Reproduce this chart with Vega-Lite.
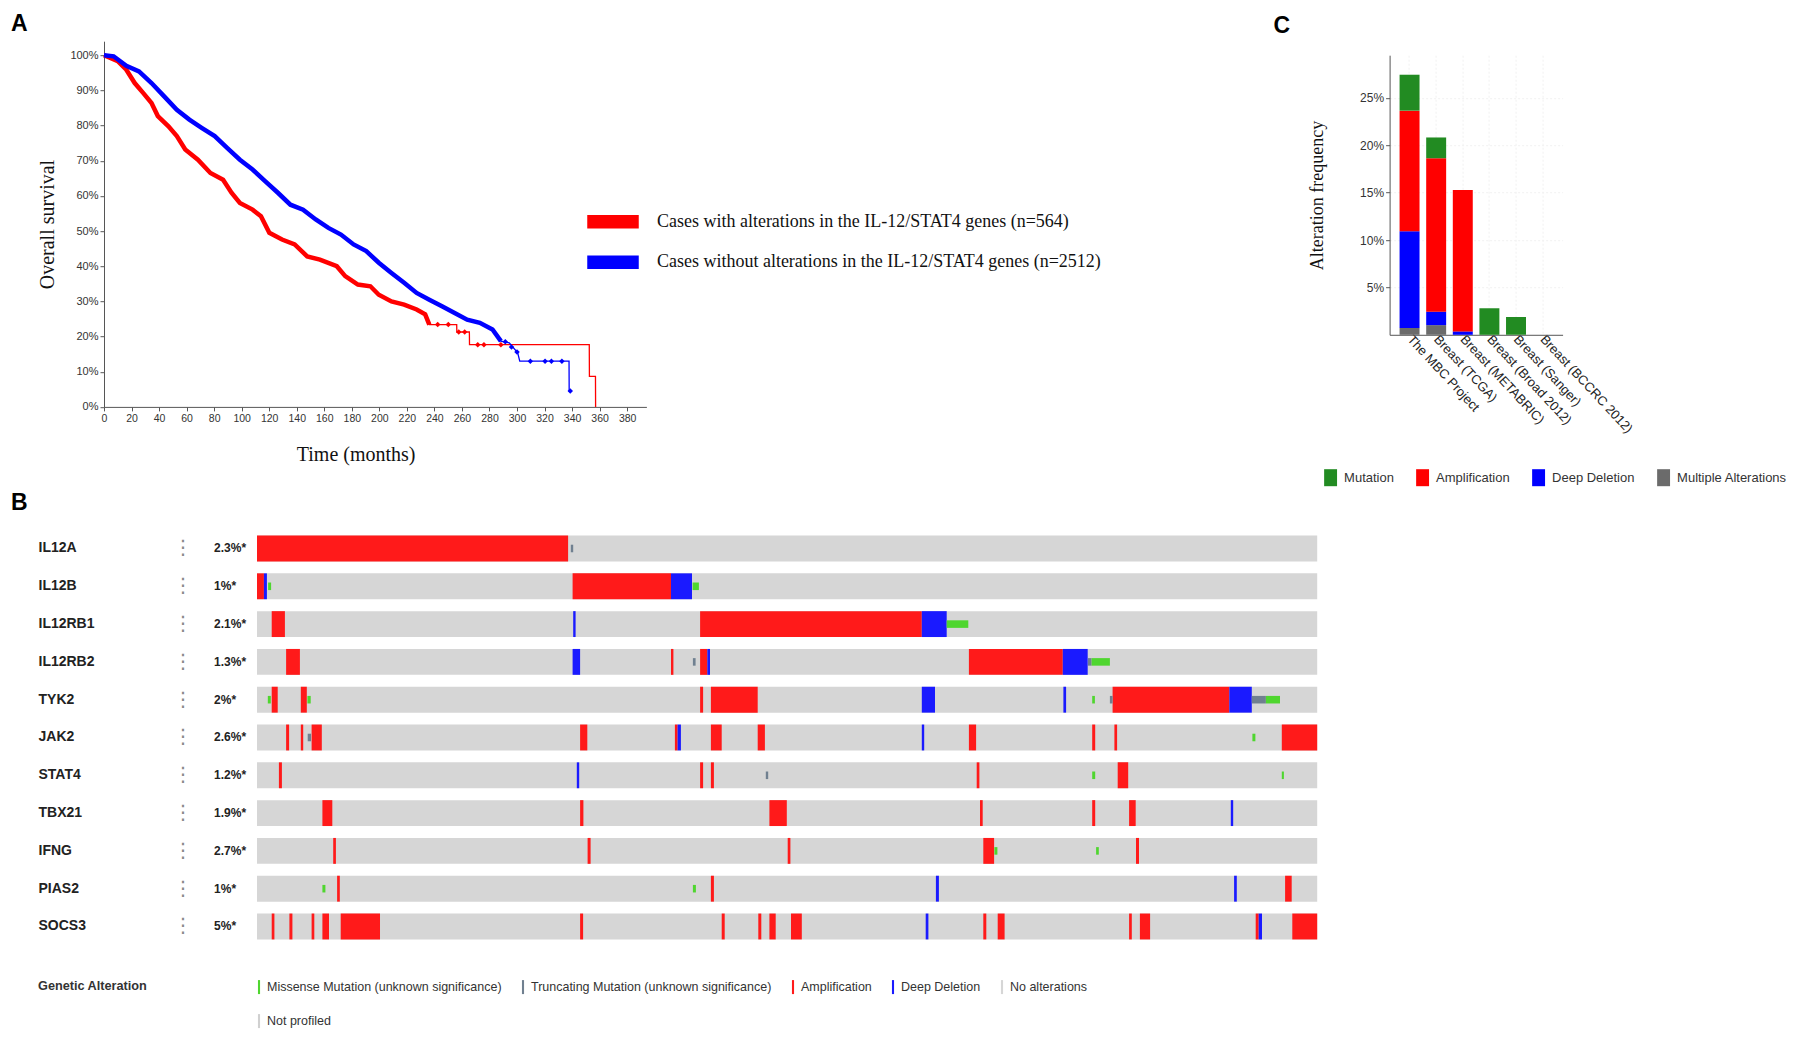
{
  "$schema": "https://vega.github.io/schema/vega-lite/v6.json",
  "autosize": {"type": "pad"},
  "padding": {"left": 11, "top": 13.2, "right": 5, "bottom": 5},
  "background": "white",
  "config": {
    "view": {"stroke": null},
    "font": "Liberation Sans",
    "legend": {"padding": 0},
    "axis": {"labelOverlap": false}
  },
  "datasets": {
    "km": [
      {"g": "altered", "t": 0, "s": 1.0}, {"g": "altered", "t": 10, "s": 0.983}, {"g": "altered", "t": 16.2, "s": 0.959}, {"g": "altered", "t": 22.3, "s": 0.921},
      {"g": "altered", "t": 28.4, "s": 0.893}, {"g": "altered", "t": 34.5, "s": 0.864}, {"g": "altered", "t": 39.1, "s": 0.827}, {"g": "altered", "t": 46.8, "s": 0.798},
      {"g": "altered", "t": 52.9, "s": 0.77}, {"g": "altered", "t": 59, "s": 0.732}, {"g": "altered", "t": 68.2, "s": 0.703}, {"g": "altered", "t": 77.3, "s": 0.665},
      {"g": "altered", "t": 86.5, "s": 0.646}, {"g": "altered", "t": 92.6, "s": 0.609}, {"g": "altered", "t": 98.7, "s": 0.58}, {"g": "altered", "t": 107.9, "s": 0.561},
      {"g": "altered", "t": 114, "s": 0.542}, {"g": "altered", "t": 120.1, "s": 0.495}, {"g": "altered", "t": 129.3, "s": 0.476}, {"g": "altered", "t": 138.5, "s": 0.462},
      {"g": "altered", "t": 147.6, "s": 0.428}, {"g": "altered", "t": 156.8, "s": 0.419}, {"g": "altered", "t": 169.1, "s": 0.40}, {"g": "altered", "t": 175.2, "s": 0.372},
      {"g": "altered", "t": 184.4, "s": 0.348}, {"g": "altered", "t": 193.5, "s": 0.343}, {"g": "altered", "t": 199.6, "s": 0.319}, {"g": "altered", "t": 208.8, "s": 0.30},
      {"g": "altered", "t": 218, "s": 0.291}, {"g": "altered", "t": 227.1, "s": 0.277}, {"g": "altered", "t": 233.3, "s": 0.263}, {"g": "altered", "t": 236.3, "s": 0.234},
      {"g": "altered", "t": 256.2, "s": 0.234}, {"g": "altered", "t": 256.3, "s": 0.213}, {"g": "altered", "t": 265.4, "s": 0.213}, {"g": "altered", "t": 265.5, "s": 0.177},
      {"g": "altered", "t": 352.5, "s": 0.177}, {"g": "altered", "t": 352.6, "s": 0.087}, {"g": "altered", "t": 357, "s": 0.087}, {"g": "altered", "t": 357.1, "s": 0},
      {"g": "unaltered", "t": 0, "s": 1.0}, {"g": "unaltered", "t": 7, "s": 0.997}, {"g": "unaltered", "t": 16.2, "s": 0.97}, {"g": "unaltered", "t": 25.4, "s": 0.954},
      {"g": "unaltered", "t": 34.5, "s": 0.921}, {"g": "unaltered", "t": 43.7, "s": 0.883}, {"g": "unaltered", "t": 52.9, "s": 0.845}, {"g": "unaltered", "t": 62, "s": 0.817},
      {"g": "unaltered", "t": 71.2, "s": 0.793}, {"g": "unaltered", "t": 80.4, "s": 0.77}, {"g": "unaltered", "t": 89.6, "s": 0.736}, {"g": "unaltered", "t": 98.7, "s": 0.703},
      {"g": "unaltered", "t": 107.9, "s": 0.675}, {"g": "unaltered", "t": 117, "s": 0.642}, {"g": "unaltered", "t": 126.3, "s": 0.609}, {"g": "unaltered", "t": 135.4, "s": 0.575},
      {"g": "unaltered", "t": 144.6, "s": 0.561}, {"g": "unaltered", "t": 153.8, "s": 0.533}, {"g": "unaltered", "t": 163, "s": 0.509}, {"g": "unaltered", "t": 172.1, "s": 0.49},
      {"g": "unaltered", "t": 181.3, "s": 0.462}, {"g": "unaltered", "t": 190.5, "s": 0.443}, {"g": "unaltered", "t": 199.6, "s": 0.41}, {"g": "unaltered", "t": 208.8, "s": 0.381},
      {"g": "unaltered", "t": 218, "s": 0.353}, {"g": "unaltered", "t": 227.1, "s": 0.324}, {"g": "unaltered", "t": 236.3, "s": 0.305}, {"g": "unaltered", "t": 245.5, "s": 0.286},
      {"g": "unaltered", "t": 254.7, "s": 0.267}, {"g": "unaltered", "t": 263.8, "s": 0.248}, {"g": "unaltered", "t": 273, "s": 0.239}, {"g": "unaltered", "t": 282.2, "s": 0.22},
      {"g": "unaltered", "t": 288.3, "s": 0.187}, {"g": "unaltered", "t": 294.4, "s": 0.182}, {"g": "unaltered", "t": 300.5, "s": 0.154}, {"g": "unaltered", "t": 302, "s": 0.13},
      {"g": "unaltered", "t": 337.8, "s": 0.13}, {"g": "unaltered", "t": 337.9, "s": 0.045}, {"g": "unaltered", "t": 339, "s": 0.045}
    ],
    "censor": [
      {"g": "altered", "t": 242.4, "s": 0.234}, {"g": "altered", "t": 250.1, "s": 0.234}, {"g": "altered", "t": 257.7, "s": 0.213}, {"g": "altered", "t": 262, "s": 0.213},
      {"g": "altered", "t": 271.5, "s": 0.177}, {"g": "altered", "t": 276, "s": 0.177}, {"g": "altered", "t": 288.3, "s": 0.177},
      {"g": "unaltered", "t": 291.5, "s": 0.185}, {"g": "unaltered", "t": 296, "s": 0.17}, {"g": "unaltered", "t": 300, "s": 0.156}, {"g": "unaltered", "t": 309.7, "s": 0.13},
      {"g": "unaltered", "t": 320.4, "s": 0.13}, {"g": "unaltered", "t": 325, "s": 0.13}, {"g": "unaltered", "t": 332.6, "s": 0.13}, {"g": "unaltered", "t": 338.7, "s": 0.045}
    ],
    "freq": [
      {"study": "The MBC Project", "type": "Multiple Alterations", "freq": 0.0073},
      {"study": "The MBC Project", "type": "Deep Deletion", "freq": 0.1019},
      {"study": "The MBC Project", "type": "Amplification", "freq": 0.1273},
      {"study": "The MBC Project", "type": "Mutation", "freq": 0.0379},
      {"study": "Breast (TCGA)", "type": "Multiple Alterations", "freq": 0.0102},
      {"study": "Breast (TCGA)", "type": "Deep Deletion", "freq": 0.0142},
      {"study": "Breast (TCGA)", "type": "Amplification", "freq": 0.1619},
      {"study": "Breast (TCGA)", "type": "Mutation", "freq": 0.0219},
      {"study": "Breast (METABRIC)", "type": "Deep Deletion", "freq": 0.0036},
      {"study": "Breast (METABRIC)", "type": "Amplification", "freq": 0.1492},
      {"study": "Breast (Broad 2012)", "type": "Mutation", "freq": 0.028},
      {"study": "Breast (Sanger)", "type": "Mutation", "freq": 0.0189}
    ],
    "types": [
      {"type": "Multiple Alterations", "rank": 1},
      {"type": "Deep Deletion", "rank": 2},
      {"type": "Amplification", "rank": 3},
      {"type": "Mutation", "rank": 4}
    ],
    "genes": [
      {"gene": "IL12A", "pct": "2.3%*"}, {"gene": "IL12B", "pct": "1%*"}, {"gene": "IL12RB1", "pct": "2.1%*"}, {"gene": "IL12RB2", "pct": "1.3%*"},
      {"gene": "TYK2", "pct": "2%*"}, {"gene": "JAK2", "pct": "2.6%*"}, {"gene": "STAT4", "pct": "1.2%*"}, {"gene": "TBX21", "pct": "1.9%*"},
      {"gene": "IFNG", "pct": "2.7%*"}, {"gene": "PIAS2", "pct": "1%*"}, {"gene": "SOCS3", "pct": "5%*"}
    ],
    "onco": [
      {"gene": "IL12A", "alt": "none", "a": 0, "b": 353.4}, {"gene": "IL12B", "alt": "none", "a": 0, "b": 353.4}, {"gene": "IL12RB1", "alt": "none", "a": 0, "b": 353.4},
      {"gene": "IL12RB2", "alt": "none", "a": 0, "b": 353.4}, {"gene": "TYK2", "alt": "none", "a": 0, "b": 353.4}, {"gene": "JAK2", "alt": "none", "a": 0, "b": 353.4},
      {"gene": "STAT4", "alt": "none", "a": 0, "b": 353.4}, {"gene": "TBX21", "alt": "none", "a": 0, "b": 353.4}, {"gene": "IFNG", "alt": "none", "a": 0, "b": 353.4},
      {"gene": "PIAS2", "alt": "none", "a": 0, "b": 353.4}, {"gene": "SOCS3", "alt": "none", "a": 0, "b": 353.4},
      {"gene": "IL12A", "alt": "amp", "a": 0, "b": 103.7}, {"gene": "IL12A", "alt": "trunc", "a": 104.6, "b": 105.4},
      {"gene": "IL12B", "alt": "amp", "a": 0, "b": 2.3}, {"gene": "IL12B", "alt": "del", "a": 2.3, "b": 3.3}, {"gene": "IL12B", "alt": "miss", "a": 3.7, "b": 4.7},
      {"gene": "IL12B", "alt": "amp", "a": 105.2, "b": 138}, {"gene": "IL12B", "alt": "del", "a": 138, "b": 145}, {"gene": "IL12B", "alt": "miss", "a": 145.2, "b": 147.3},
      {"gene": "IL12RB1", "alt": "amp", "a": 4.9, "b": 9.3}, {"gene": "IL12RB1", "alt": "del", "a": 105.4, "b": 106.2}, {"gene": "IL12RB1", "alt": "amp", "a": 147.7, "b": 221.6},
      {"gene": "IL12RB1", "alt": "del", "a": 221.6, "b": 229.9}, {"gene": "IL12RB1", "alt": "miss", "a": 229.9, "b": 237.1},
      {"gene": "IL12RB2", "alt": "amp", "a": 9.7, "b": 14.3}, {"gene": "IL12RB2", "alt": "del", "a": 105.2, "b": 107.7}, {"gene": "IL12RB2", "alt": "amp", "a": 138, "b": 138.8},
      {"gene": "IL12RB2", "alt": "trunc", "a": 145.3, "b": 146.2}, {"gene": "IL12RB2", "alt": "amp", "a": 147.7, "b": 150.1}, {"gene": "IL12RB2", "alt": "del", "a": 150.1, "b": 151},
      {"gene": "IL12RB2", "alt": "amp", "a": 237.3, "b": 268.6}, {"gene": "IL12RB2", "alt": "del", "a": 268.6, "b": 276.9}, {"gene": "IL12RB2", "alt": "trunc", "a": 277, "b": 278.2},
      {"gene": "IL12RB2", "alt": "miss", "a": 278.2, "b": 284.3},
      {"gene": "TYK2", "alt": "miss", "a": 3.6, "b": 4.6}, {"gene": "TYK2", "alt": "amp", "a": 4.9, "b": 6.9}, {"gene": "TYK2", "alt": "amp", "a": 14.6, "b": 16.6},
      {"gene": "TYK2", "alt": "miss", "a": 16.8, "b": 17.9}, {"gene": "TYK2", "alt": "amp", "a": 147.7, "b": 148.7}, {"gene": "TYK2", "alt": "amp", "a": 151.3, "b": 166.9},
      {"gene": "TYK2", "alt": "del", "a": 221.6, "b": 226}, {"gene": "TYK2", "alt": "del", "a": 268.8, "b": 269.7}, {"gene": "TYK2", "alt": "miss", "a": 278.4, "b": 279.3},
      {"gene": "TYK2", "alt": "trunc", "a": 284.3, "b": 285.2}, {"gene": "TYK2", "alt": "amp", "a": 285.2, "b": 324.1}, {"gene": "TYK2", "alt": "del", "a": 324.1, "b": 331.6},
      {"gene": "TYK2", "alt": "trunc", "a": 331.6, "b": 336.3}, {"gene": "TYK2", "alt": "miss", "a": 336.3, "b": 341},
      {"gene": "JAK2", "alt": "amp", "a": 9.7, "b": 10.7}, {"gene": "JAK2", "alt": "amp", "a": 14.6, "b": 15.4}, {"gene": "JAK2", "alt": "trunc", "a": 16.9, "b": 18},
      {"gene": "JAK2", "alt": "amp", "a": 18.2, "b": 21.6}, {"gene": "JAK2", "alt": "amp", "a": 107.7, "b": 110.1}, {"gene": "JAK2", "alt": "amp", "a": 139.3, "b": 140.2},
      {"gene": "JAK2", "alt": "del", "a": 140.2, "b": 141.3}, {"gene": "JAK2", "alt": "amp", "a": 151.3, "b": 154.9}, {"gene": "JAK2", "alt": "amp", "a": 166.9, "b": 169.3},
      {"gene": "JAK2", "alt": "del", "a": 221.6, "b": 222.4}, {"gene": "JAK2", "alt": "amp", "a": 237.3, "b": 239.7}, {"gene": "JAK2", "alt": "amp", "a": 278.4, "b": 279.4},
      {"gene": "JAK2", "alt": "amp", "a": 285.8, "b": 286.7}, {"gene": "JAK2", "alt": "miss", "a": 331.8, "b": 332.8}, {"gene": "JAK2", "alt": "amp", "a": 341.6, "b": 353.4},
      {"gene": "STAT4", "alt": "amp", "a": 7.3, "b": 8.3}, {"gene": "STAT4", "alt": "del", "a": 106.6, "b": 107.4}, {"gene": "STAT4", "alt": "amp", "a": 147.7, "b": 148.7},
      {"gene": "STAT4", "alt": "amp", "a": 151.3, "b": 152.3}, {"gene": "STAT4", "alt": "trunc", "a": 169.6, "b": 170.4}, {"gene": "STAT4", "alt": "amp", "a": 239.9, "b": 240.8},
      {"gene": "STAT4", "alt": "miss", "a": 278.4, "b": 279.4}, {"gene": "STAT4", "alt": "amp", "a": 286.9, "b": 290.4}, {"gene": "STAT4", "alt": "miss", "a": 341.6, "b": 342.3},
      {"gene": "TBX21", "alt": "amp", "a": 21.8, "b": 25.1}, {"gene": "TBX21", "alt": "amp", "a": 107.7, "b": 108.8}, {"gene": "TBX21", "alt": "amp", "a": 170.8, "b": 176.6},
      {"gene": "TBX21", "alt": "amp", "a": 241, "b": 241.9}, {"gene": "TBX21", "alt": "amp", "a": 278.4, "b": 279.4}, {"gene": "TBX21", "alt": "amp", "a": 290.7, "b": 292.9},
      {"gene": "TBX21", "alt": "del", "a": 324.6, "b": 325.4},
      {"gene": "IFNG", "alt": "amp", "a": 25.4, "b": 26.3}, {"gene": "IFNG", "alt": "amp", "a": 110.2, "b": 111.2}, {"gene": "IFNG", "alt": "amp", "a": 176.9, "b": 177.8},
      {"gene": "IFNG", "alt": "amp", "a": 242.1, "b": 245.7}, {"gene": "IFNG", "alt": "miss", "a": 245.8, "b": 246.8}, {"gene": "IFNG", "alt": "miss", "a": 279.7, "b": 280.6},
      {"gene": "IFNG", "alt": "amp", "a": 293, "b": 294},
      {"gene": "PIAS2", "alt": "miss", "a": 21.8, "b": 22.8}, {"gene": "PIAS2", "alt": "amp", "a": 26.7, "b": 27.6}, {"gene": "PIAS2", "alt": "miss", "a": 145.3, "b": 146.3},
      {"gene": "PIAS2", "alt": "amp", "a": 151.3, "b": 152.3}, {"gene": "PIAS2", "alt": "del", "a": 226.3, "b": 227.3}, {"gene": "PIAS2", "alt": "del", "a": 325.7, "b": 326.6},
      {"gene": "PIAS2", "alt": "amp", "a": 342.7, "b": 344.9},
      {"gene": "SOCS3", "alt": "amp", "a": 4.9, "b": 5.8}, {"gene": "SOCS3", "alt": "amp", "a": 10.8, "b": 11.8}, {"gene": "SOCS3", "alt": "amp", "a": 18.2, "b": 19.1},
      {"gene": "SOCS3", "alt": "amp", "a": 21.8, "b": 24}, {"gene": "SOCS3", "alt": "amp", "a": 27.9, "b": 41}, {"gene": "SOCS3", "alt": "amp", "a": 107.7, "b": 108.7},
      {"gene": "SOCS3", "alt": "amp", "a": 154.9, "b": 155.9}, {"gene": "SOCS3", "alt": "amp", "a": 167.1, "b": 168.1}, {"gene": "SOCS3", "alt": "amp", "a": 170.8, "b": 172.9},
      {"gene": "SOCS3", "alt": "amp", "a": 178, "b": 181.6}, {"gene": "SOCS3", "alt": "del", "a": 222.9, "b": 223.8}, {"gene": "SOCS3", "alt": "amp", "a": 242.1, "b": 243.1},
      {"gene": "SOCS3", "alt": "amp", "a": 246.9, "b": 249.2}, {"gene": "SOCS3", "alt": "amp", "a": 290.7, "b": 291.6}, {"gene": "SOCS3", "alt": "amp", "a": 294.3, "b": 297.7},
      {"gene": "SOCS3", "alt": "amp", "a": 332.9, "b": 333.9}, {"gene": "SOCS3", "alt": "del", "a": 333.9, "b": 335}, {"gene": "SOCS3", "alt": "amp", "a": 345.1, "b": 353.4}
    ]
  },
  "bounds": "flush",
  "spacing": 488.4,
  "resolve": {"scale": {"color": "independent"}, "legend": {"color": "independent"}},
  "vconcat": [
    {
      "bounds": "flush",
      "spacing": 742.6,
      "resolve": {"scale": {"color": "independent"}, "legend": {"color": "independent"}},
      "hconcat": [
        {
          "width": 542.4,
          "height": 365.7,
          "title": {"text": "A", "anchor": "start", "frame": "group", "dx": -93, "dy": 23, "offset": 10, "baseline": "alphabetic", "fontSize": 23, "fontWeight": "bold", "color": "#000", "font": "Liberation Sans"},
          "encoding": {
            "x": {"field": "t", "type": "quantitative", "scale": {"domain": [0, 394], "nice": false},
              "axis": {"values": [0, 20, 40, 60, 80, 100, 120, 140, 160, 180, 200, 220, 240, 260, 280, 300, 320, 340, 360, 380],
                "labelOverlap": false, "labelFlush": false, "labelSeparation": 0,
                "title": "Time (months)", "titleFont": "Liberation Serif", "titleFontSize": 20, "titleFontWeight": "normal", "titleColor": "#111",
                "titleX": 251.6, "titleY": 54, "titleBaseline": "alphabetic", "titleAlign": "center",
                "labelFontSize": 10.5, "labelColor": "#333", "tickColor": "#555", "domainColor": "#555", "tickSize": 4, "grid": false, "labelPadding": 3}},
            "y": {"field": "s", "type": "quantitative", "scale": {"domain": [0, 1.04], "nice": false},
              "axis": {"values": [0, 0.1, 0.2, 0.3, 0.4, 0.5, 0.6, 0.7, 0.8, 0.9, 1.0], "format": ".0%", "labelOverlap": false, "labelSeparation": 0,
                "title": "Overall survival", "titleFont": "Liberation Serif", "titleFontSize": 20, "titleFontWeight": "normal", "titleColor": "#111",
                "titleX": -57, "titleBaseline": "middle",
                "labelFontSize": 11, "labelColor": "#333", "tickColor": "#555", "domainColor": "#555", "tickSize": 4, "grid": false}},
            "color": {"field": "g", "type": "nominal", "scale": {"domain": ["altered", "unaltered"], "range": ["#ff0000", "#0000ff"]},
              "legend": {"orient": "none", "legendX": 483, "legendY": 154.5, "title": null, "direction": "vertical", "columns": 1,
                "labelExpr": "datum.label == 'altered' ? 'Cases with alterations in the IL-12/STAT4 genes (n=564)' : 'Cases without alterations in the IL-12/STAT4 genes (n=2512)'",
                "labelFont": "Liberation Serif", "labelFontSize": 18, "labelColor": "#111", "labelLimit": 0,
                "symbolType": "M-1,-0.24H1V0.24H-1Z", "symbolSize": 2500, "labelOffset": 18, "rowPadding": 5.5,
                "encode": {"symbols": {"update": {"fill": {"signal": "datum.value == 'altered' ? '#ff0000' : '#0000ff'"}, "stroke": {"value": "transparent"}, "opacity": {"value": 1}}}}}}
          },
          "layer": [
            {
              "data": {"name": "km"},
              "mark": {"type": "line", "strokeWidth": 1.3}
            },
            {
              "data": {"name": "km"},
              "transform": [{"filter": "datum.t <= (datum.g == 'altered' ? 237 : 289)"}],
              "mark": {"type": "line", "strokeWidth": 4.5}
            },
            {
              "data": {"name": "censor"},
              "mark": {"type": "point", "shape": "diamond", "filled": true, "size": 30, "opacity": 1}
            },
            {
              "data": {"values": [{"label": "Log rank test p value: 0.00013"}]},
              "mark": {"type": "text", "font": "Liberation Serif", "fontSize": 18, "align": "left", "baseline": "middle"},
              "encoding": {
                "x": {"datum": 125.7, "type": "quantitative"},
                "y": {"datum": 0.874, "type": "quantitative"},
                "color": {"value": "#111"},
                "text": {"field": "label"}
              }
            }
          ]
        },
        {
          "bounds": "flush",
          "spacing": 0,
          "resolve": {"scale": {"color": "independent"}, "legend": {"color": "independent"}},
          "vconcat": [
            {"data": {"values": [{"k": 1}]}, "mark": {"type": "text", "text": ""}, "width": 173, "height": 13.5},
            {
              "width": 173,
              "height": 279.6,
              "title": {"text": "C", "anchor": "start", "frame": "group", "dx": -116, "dy": 23, "offset": 22, "baseline": "alphabetic", "fontSize": 23, "fontWeight": "bold", "color": "#000", "font": "Liberation Sans"},
              "data": {"name": "freq"},
              "transform": [{"lookup": "type", "from": {"data": {"name": "types"}, "key": "type", "fields": ["rank"]}}],
              "mark": {"type": "bar"},
              "encoding": {
                "x": {"field": "study", "type": "nominal", "sort": null,
                  "scale": {"domain": ["The MBC Project", "Breast (TCGA)", "Breast (METABRIC)", "Breast (Broad 2012)", "Breast (Sanger)", "Breast (BCCRC 2012)"], "paddingInner": 0.25, "paddingOuter": 0.375},
                  "axis": {"title": null, "labelAngle": 47, "labelAlign": "left", "labelBaseline": "middle", "labelFontSize": 13, "labelColor": "#222", "ticks": false, "labelPadding": 2,
                    "domainColor": "#555", "grid": true, "gridColor": "#f1f1f1", "gridDash": [2, 2]}},
                "y": {"field": "freq", "type": "quantitative", "stack": "zero", "scale": {"domain": [0, 0.295], "nice": false},
                  "axis": {"values": [0.05, 0.1, 0.15, 0.2, 0.25], "format": ".0%", "title": "Alteration frequency", "titleFont": "Liberation Serif", "titleFontSize": 18,
                    "titleFontWeight": "normal", "titleColor": "#111", "titleX": -72, "titleBaseline": "middle",
                    "labelFontSize": 12, "labelColor": "#333", "tickColor": "#555", "domainColor": "#555", "tickSize": 4, "grid": true, "gridColor": "#f1f1f1", "gridDash": [2, 2]}},
                "color": {"field": "type", "type": "nominal",
                  "scale": {"domain": ["Mutation", "Amplification", "Deep Deletion", "Multiple Alterations"], "range": ["#228b22", "#ff0000", "#0000ff", "#6b6b6b"]},
                  "legend": {"orient": "none", "legendX": -67.5, "legendY": 414, "direction": "horizontal", "title": null,
                    "symbolType": "M-0.76,-1H0.76V1H-0.76Z", "symbolSize": 289, "symbolStrokeWidth": 0, "labelFontSize": 13, "labelColor": "#333",
                    "labelOffset": 5, "columnPadding": 20, "labelLimit": 0}},
                "order": {"field": "rank", "type": "quantitative", "sort": "ascending"}
              }
            }
          ]
        }
      ]
    },
    {
      "width": 1213.5,
      "height": 415.8,
      "title": {"text": "B", "anchor": "start", "frame": "group", "dx": -93, "dy": 23, "offset": 20, "baseline": "alphabetic", "fontSize": 23, "fontWeight": "bold", "color": "#000", "font": "Liberation Sans"},
      "layer": [
        {
          "data": {"name": "onco"},
          "transform": [{"filter": "datum.alt == 'none'"}],
          "mark": {"type": "bar", "height": {"band": 0.685}},
          "encoding": {
            "x": {"field": "a", "type": "quantitative", "scale": {"domain": [-51, 353.5], "nice": false, "zero": false}, "axis": null},
            "x2": {"field": "b"},
            "y": {"field": "gene", "type": "nominal",
              "scale": {"domain": ["IL12A", "IL12B", "IL12RB1", "IL12RB2", "TYK2", "JAK2", "STAT4", "TBX21", "IFNG", "PIAS2", "SOCS3"], "paddingInner": 0, "paddingOuter": 0},
              "axis": {"title": null, "domain": false, "ticks": false, "labelAlign": "left", "labelPadding": 66, "labelFontSize": 14, "labelFontWeight": "bold",
                "labelColor": "#222", "labelFont": "Liberation Sans Narrow, Liberation Sans", "labelBaseline": "middle"}},
            "color": {"field": "alt", "type": "nominal",
              "scale": {"domain": ["miss", "trunc", "amp", "del", "none", "np"], "range": ["#4fd62f", "#708090", "#ff1a1a", "#1a1aff", "#d6d6d6", "#d0d0d0"]},
              "legend": {"orient": "none", "legendX": -66, "legendY": 450.5, "direction": "horizontal", "columns": 5,
                "title": "Genetic Alteration", "titleOrient": "left", "titleAnchor": "start", "titleBaseline": "top", "titleFontSize": 12.7, "titleFontWeight": "bold", "titleColor": "#333", "titlePadding": 104,
                "symbolType": "M-0.15,-1H0.15V1H-0.15Z", "symbolSize": 196, "symbolStrokeWidth": 0,
                "labelFontSize": 12.5, "labelColor": "#333", "labelOffset": 1, "columnPadding": 14, "rowPadding": 20, "labelLimit": 0,
                "labelExpr": "datum.label == 'miss' ? 'Missense Mutation (unknown significance)' : datum.label == 'trunc' ? 'Truncating Mutation (unknown significance)' : datum.label == 'amp' ? 'Amplification' : datum.label == 'del' ? 'Deep Deletion' : datum.label == 'none' ? 'No alterations' : 'Not profiled'"}}
          }
        },
        {
          "data": {"name": "onco"},
          "transform": [{"filter": "datum.alt == 'amp' || datum.alt == 'del'"}],
          "mark": {"type": "bar", "height": {"band": 0.685}},
          "encoding": {
            "x": {"field": "a", "type": "quantitative"},
            "x2": {"field": "b"},
            "y": {"field": "gene", "type": "nominal"},
            "color": {"field": "alt", "type": "nominal"}
          }
        },
        {
          "data": {"name": "onco"},
          "transform": [{"filter": "datum.alt == 'miss' || datum.alt == 'trunc'"}],
          "mark": {"type": "bar", "height": {"band": 0.2}},
          "encoding": {
            "x": {"field": "a", "type": "quantitative"},
            "x2": {"field": "b"},
            "y": {"field": "gene", "type": "nominal"},
            "color": {"field": "alt", "type": "nominal"}
          }
        },
        {
          "data": {"name": "genes"},
          "mark": {"type": "text", "align": "left", "baseline": "middle", "fontSize": 12, "fontWeight": "bold", "color": "#222"},
          "encoding": {
            "x": {"datum": -14.3, "type": "quantitative"},
            "y": {"field": "gene", "type": "nominal"},
            "text": {"field": "pct"}
          }
        },
        {
          "data": {"name": "genes"},
          "mark": {"type": "text", "align": "center", "baseline": "middle", "fontSize": 20, "color": "#8a8a8a", "text": "⋮", "font": "DejaVu Sans"},
          "encoding": {
            "x": {"datum": -24.7, "type": "quantitative"},
            "y": {"field": "gene", "type": "nominal"}
          }
        }
      ]
    }
  ]
}
